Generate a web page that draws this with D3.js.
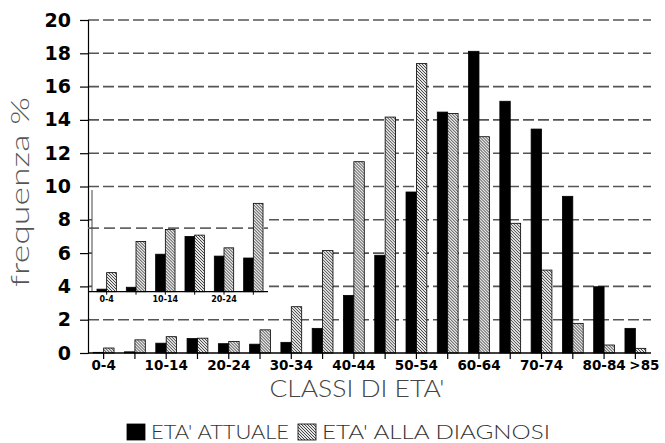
<!DOCTYPE html>
<html>
<head>
<meta charset="utf-8">
<script src="https://cdn.jsdelivr.net/npm/d3@7"></script>
<style>
  body { margin: 0; background: #fff; }
  svg { display: block; }
  .thin { font-family: Lato, 'Open Sans', 'Liberation Sans', Arial, sans-serif; font-weight: 300; }
</style>
</head>
<body>
<svg id="chart" width="665" height="443"></svg>
<script>
// Age classes (5-year bands)
const ageClasses = ["0-4","5-9","10-14","15-19","20-24","25-29","30-34","35-39","40-44",
                     "45-49","50-54","55-59","60-64","65-69","70-74","75-79","80-84",">85"];
// Frequency (%) by current age
const currentAge = [0.04,0.07,0.59,0.87,0.56,0.53,0.64,1.48,3.46,5.87,9.67,14.47,18.12,15.12,13.45,9.41,3.98,1.48];
// Frequency (%) by age at diagnosis
const ageAtDiagnosis = [0.30,0.79,0.98,0.89,0.69,1.39,2.78,6.15,11.49,14.17,17.38,14.39,12.99,7.79,4.98,1.78,0.48,0.28];
const yTicks = [0,2,4,6,8,10,12,14,16,18,20];
const xTickLabels = ["0-4","10-14","20-24","30-34","40-44","50-54","60-64","70-74","80-84",">85"];
// Enlarged detail of the youngest classes
const insetClasses = ageClasses.slice(0, 6);
const insetGrid = [1];
const insetTickLabels = ["0-4","10-14","20-24"];
const seriesNames = ["ETA' ATTUALE","ETA' ALLA DIAGNOSI"];

const svg = d3.select("#chart");
const defs = svg.append("defs");
const pat = defs.append("pattern")
  .attr("id","hatch").attr("patternUnits","userSpaceOnUse")
  .attr("width",3).attr("height",3);
pat.append("rect").attr("width",3).attr("height",3).attr("fill","#e6e6e6");
pat.append("path").attr("d","M-1,-1 L4,4 M-1,2 L1,4 M2,-1 L4,1")
  .attr("stroke","#333").attr("stroke-width",0.9);

const fills = ["#000", "url(#hatch)"];

// ---- main plot ----
const x = d3.scaleBand().domain(ageClasses).range([88, 651]).paddingInner(0.335).paddingOuter(0.1675);
const xs = d3.scaleBand().domain([0,1]).range([0, x.bandwidth()]);
const y = d3.scaleLinear().domain([0, 20]).range([353, 20]);

// dashed gridlines
svg.append("g").selectAll("line").data(yTicks.filter(d => d > 0)).join("line")
  .attr("x1", 88).attr("x2", 651)
  .attr("y1", d => y(d)).attr("y2", d => y(d))
  .attr("stroke", "#555").attr("stroke-width", 1.6)
  .attr("stroke-dasharray", "11,4");

// y axis
const yAxis = d3.axisLeft(y).tickValues(yTicks).tickSize(8).tickPadding(9).tickFormat(d3.format("d"));
const gy = svg.append("g").attr("transform", "translate(88,0)").call(yAxis);
gy.select(".domain").attr("stroke", "#000").attr("stroke-width", 1.2);
gy.selectAll(".tick line").attr("stroke", "#000").attr("stroke-width", 1.2);
gy.selectAll(".tick text")
  .attr("font-family", "'DejaVu Sans', sans-serif").attr("font-weight", "bold")
  .attr("font-size", 19).attr("fill", "#000");

// bars
const rows = ageClasses.map((c, i) => ({c, v: [currentAge[i], ageAtDiagnosis[i]]}));
const groups = svg.append("g").selectAll("g").data(rows).join("g")
  .attr("transform", d => `translate(${x(d.c)},0)`);
groups.selectAll("rect").data(d => d.v.map((v, k) => ({v, k}))).join("rect")
  .attr("x", d => xs(d.k)).attr("width", xs.bandwidth())
  .attr("y", d => y(d.v)).attr("height", d => y(0) - y(d.v))
  .attr("fill", d => fills[d.k])
  .attr("stroke", "#000").attr("stroke-width", 0.8);

// x axis
const xAxis = d3.axisBottom(x).tickSize(6).tickPadding(1)
  .tickFormat(d => xTickLabels.includes(d) ? d : "");
const gx = svg.append("g").attr("transform", `translate(0,${y(0)})`).call(xAxis);
gx.select(".domain").attr("stroke", "#000").attr("stroke-width", 1.4).attr("d", "M88,0H651");
gx.selectAll(".tick line").attr("stroke", "#000").attr("stroke-width", 1.2);
gx.selectAll(".tick text")
  .attr("font-family", "'DejaVu Sans', sans-serif").attr("font-weight", "bold")
  .attr("font-size", 13.5).attr("fill", "#000")
  .attr("dx", d => d === ">85" ? 9 : 0);

// ---- inset ----
const xi = d3.scaleBand().domain(insetClasses).range([92, 268]).paddingInner(0.34).paddingOuter(0.17);
const xsi = d3.scaleBand().domain([0,1]).range([0, xi.bandwidth()]);
const yi = d3.scaleLinear().domain([0, 1.6]).range([291.7, 190]);

const inset = svg.append("g");
inset.append("rect").attr("x", 92).attr("y", 189).attr("width", 177).attr("height", 120).attr("fill", "#fff");
inset.selectAll("line.grid").data(insetGrid).join("line").attr("class", "grid")
  .attr("x1", 88).attr("x2", 268)
  .attr("y1", d => yi(d)).attr("y2", d => yi(d))
  .attr("stroke", "#666").attr("stroke-width", 1.6).attr("stroke-dasharray", "11,5");
inset.append("line").attr("x1", 92).attr("x2", 92).attr("y1", 190).attr("y2", yi(0))
  .attr("stroke", "#444").attr("stroke-width", 1);

const irows = insetClasses.map((c, i) => ({c, v: [currentAge[i], ageAtDiagnosis[i]]}));
const igroups = inset.append("g").selectAll("g").data(irows).join("g")
  .attr("transform", d => `translate(${xi(d.c)},0)`);
igroups.selectAll("rect").data(d => d.v.map((v, k) => ({v, k}))).join("rect")
  .attr("x", d => xsi(d.k)).attr("width", xsi.bandwidth())
  .attr("y", d => yi(d.v)).attr("height", d => yi(0) - yi(d.v))
  .attr("fill", d => fills[d.k])
  .attr("stroke", "#000").attr("stroke-width", 0.8);

const xiAxis = d3.axisBottom(xi).tickSize(3).tickPadding(2)
  .tickFormat(d => insetTickLabels.includes(d) ? d : "");
const gxi = inset.append("g").attr("transform", `translate(0,${yi(0)})`).call(xiAxis);
gxi.select(".domain").attr("stroke", "#000").attr("stroke-width", 1.2).attr("d", "M88,0H268");
gxi.selectAll(".tick line").attr("stroke", "#000");
gxi.selectAll(".tick text")
  .attr("font-family", "'DejaVu Sans', sans-serif").attr("font-weight", "bold")
  .attr("font-size", 8).attr("fill", "#000");

// ---- titles ----
svg.append("text").attr("class", "thin")
  .attr("transform", "translate(29,192) rotate(-90)")
  .attr("text-anchor", "middle")
  .attr("font-size", 25)
  .attr("fill", "#555").attr("textLength", 190).attr("lengthAdjust", "spacingAndGlyphs")
  .text("frequenza %");

svg.append("text").attr("class", "thin")
  .attr("x", 357).attr("y", 397).attr("text-anchor", "middle")
  .attr("font-size", 23)
  .attr("fill", "#444").attr("textLength", 175).attr("lengthAdjust", "spacingAndGlyphs")
  .text("CLASSI DI ETA'");

// ---- legend ----
const legendX = [127, 298];
const legendLen = [138, 228];
const lg = svg.append("g").selectAll("g").data(seriesNames).join("g")
  .attr("transform", (d, i) => `translate(${legendX[i]},424)`);
lg.append("rect").attr("width", 18).attr("height", 16)
  .attr("fill", (d, i) => fills[i]).attr("stroke", "#000").attr("stroke-width", 0.8);
lg.append("text").attr("class", "thin").attr("x", 24).attr("y", 15)
  .attr("font-size", 19)
  .attr("fill", "#333")
  .attr("textLength", (d, i) => legendLen[i]).attr("lengthAdjust", "spacingAndGlyphs")
  .text(d => d);
</script>
</body>
</html>
